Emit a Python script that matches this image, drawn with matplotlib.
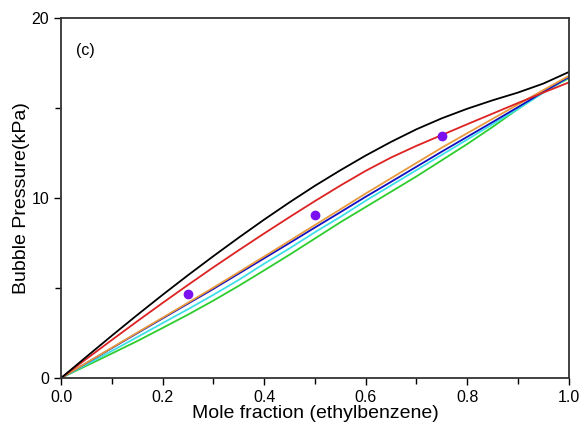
import matplotlib
matplotlib.use("Agg")
import matplotlib.pyplot as plt
from matplotlib.ticker import MultipleLocator

plt.rcParams['font.family'] = ['Liberation Sans', 'DejaVu Sans']

# Liquid mole fraction of ethylbenzene
x = [0.00, 0.05, 0.10, 0.15, 0.20, 0.25, 0.30, 0.35, 0.40, 0.45, 0.50,
     0.55, 0.60, 0.65, 0.70, 0.75, 0.80, 0.85, 0.90, 0.95, 1.00]

# Bubble pressure (kPa) predicted by each model
p_black = [0.0, 1.18, 2.35, 3.50, 4.62, 5.71, 6.77, 7.80, 8.80, 9.76, 10.68,
           11.54, 12.36, 13.12, 13.82, 14.43, 14.96, 15.43, 15.86, 16.36, 17.00]
p_red = [0.0, 1.06, 2.11, 3.15, 4.17, 5.17, 6.15, 7.10, 8.03, 8.94, 9.83,
         10.69, 11.51, 12.25, 12.90, 13.50, 14.10, 14.69, 15.28, 15.86, 16.42]
p_orange = [0.0, 0.84, 1.68, 2.52, 3.35, 4.18, 5.02, 5.88, 6.75, 7.62, 8.50,
            9.37, 10.25, 11.10, 11.95, 12.80, 13.60, 14.40, 15.20, 16.00, 16.78]
p_blue = [0.0, 0.83, 1.66, 2.49, 3.31, 4.13, 4.95, 5.80, 6.65, 7.50, 8.36,
          9.21, 10.07, 10.90, 11.74, 12.58, 13.40, 14.22, 15.05, 15.90, 16.72]
p_cyan = [0.0, 0.75, 1.50, 2.27, 3.05, 3.82, 4.62, 5.45, 6.35, 7.20, 8.10,
          8.95, 9.85, 10.70, 11.55, 12.40, 13.25, 14.10, 14.95, 15.85, 16.70]
p_green = [0.0, 0.68, 1.36, 2.05, 2.78, 3.52, 4.30, 5.12, 5.98, 6.85, 7.75,
           8.65, 9.50, 10.35, 11.20, 12.10, 13.00, 13.95, 14.95, 15.90, 16.65]

# Experimental bubble pressures
x_exp = [0.25, 0.50, 0.75]
p_exp = [4.67, 9.04, 13.45]

fig = plt.figure(figsize=(5.84, 4.24), dpi=100)
ax = fig.add_axes([0.1045, 0.1085, 0.8695, 0.849])

lw = 1.3
ax.plot(x, p_green, color='#2ecc2e', lw=lw)
ax.plot(x, p_cyan, color='#3ee0e8', lw=lw)
ax.plot(x, p_blue, color='#1010c0', lw=lw)
ax.plot(x, p_orange, color='#e89a3c', lw=lw)
ax.plot(x, p_red, color='#dd2222', lw=lw)
ax.plot(x, p_black, color='black', lw=lw)
ax.plot(x_exp, p_exp, 'o', color='#7a10f0', markersize=6, zorder=5)

ax.set_xlim(0, 1.0)
ax.set_ylim(0, 20)
ax.xaxis.set_major_locator(MultipleLocator(0.2))
ax.xaxis.set_minor_locator(MultipleLocator(0.1))
ax.yaxis.set_major_locator(MultipleLocator(10))
ax.yaxis.set_minor_locator(MultipleLocator(5))
ax.xaxis.set_major_formatter(plt.FuncFormatter(lambda v, _: f"{v:.1f}"))

ax.tick_params(which='both', direction='out', top=False, right=False,
               width=1.0, labelsize=11.5)
ax.tick_params(which='major', length=5)
ax.tick_params(which='minor', length=4)
for s in ax.spines.values():
    s.set_linewidth(1.3)
    s.set_color('#333333')

ax.set_xlabel('Mole fraction (ethylbenzene)', fontsize=14, labelpad=0)
ax.set_ylabel('Bubble Pressure(kPa)', fontsize=14, labelpad=1)
ax.text(0.03, 17.95, '(c)', fontsize=11.5)

fig.savefig('out.png', dpi=100)
